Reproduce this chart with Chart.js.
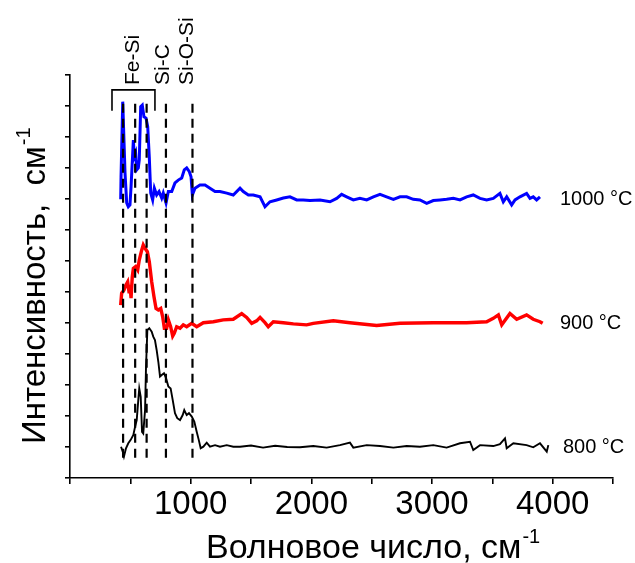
<!DOCTYPE html>
<html>
<head>
<meta charset="utf-8">
<script src="https://cdn.jsdelivr.net/npm/chart.js@4.4.1/dist/chart.umd.min.js"></script>
<style>
    html, body { margin: 0; padding: 0; background: #fff; }
    #wrap { width: 635px; height: 563px; }
</style>
</head>
<body>
<div id="wrap"><canvas id="ftir" width="635" height="563"></canvas></div>
<script>
// spectra (x = wavenumber, y = offset intensity)
const x1000 = [420, 423, 437, 456, 470, 483, 497, 506, 525, 533, 544, 553, 566, 574, 586, 599, 613, 630, 644, 657,
    669, 685, 699, 718, 738, 760, 773, 796, 815, 843, 870, 897, 926, 947, 967, 989, 1003, 1014, 1036, 1077,
    1119, 1160, 1202, 1243, 1299, 1353, 1409, 1436, 1478, 1519, 1575, 1616, 1657, 1713, 1768, 1823, 1879, 1933, 1989, 2072,
    2155, 2210, 2251, 2293, 2348, 2403, 2459, 2514, 2569, 2624, 2680, 2735, 2790, 2845, 2900, 2956, 3011, 3066, 3121, 3177,
    3232, 3287, 3342, 3398, 3453, 3508, 3563, 3591, 3619, 3660, 3688, 3729, 3784, 3812, 3839, 3867, 3895];
const y1000 = [8.99, 9.72, 12.14, 9.84, 8.87, 8.75, 8.81, 9.40, 10.90, 10.36, 10.48, 9.94, 10.0, 10.26, 11.98, 12.03, 11.65, 11.61, 11.33, 10.36,
    9.19, 8.97, 9.35, 9.13, 9.24, 9.03, 9.19, 8.87, 9.24, 9.24, 9.52, 9.61, 9.68, 9.94, 10.0, 9.88, 9.72, 9.13, 9.35, 9.45,
    9.45, 9.35, 9.24, 9.24, 9.19, 9.13, 9.35, 9.24, 9.13, 9.13, 9.07, 8.75, 8.91, 8.97, 9.03, 9.07, 8.97, 8.97, 8.95, 8.97,
    8.91, 9.02, 9.15, 9.07, 8.97, 9.02, 8.97, 9.07, 9.15, 9.07, 8.99, 9.07, 9.07, 8.99, 8.97, 8.86, 8.95, 8.97, 8.99, 9.02,
    8.97, 9.07, 9.13, 9.02, 8.97, 9.02, 9.18, 8.91, 9.07, 8.81, 8.97, 9.07, 9.18, 9.02, 9.07, 8.97, 9.07];

const x900 = [420, 428, 447, 464, 478, 489, 497, 506, 516, 525, 544, 561, 574, 594, 607, 622, 641, 657, 677, 696,
    713, 732, 752, 768, 782, 801, 815, 834, 851, 864, 884, 912, 939, 967, 1009, 1050, 1105, 1188, 1270, 1353,
    1423, 1464, 1506, 1547, 1575, 1616, 1643, 1685, 1768, 1851, 1961, 2016, 2182, 2320, 2541, 2735, 3011, 3287, 3453, 3508,
    3550, 3578, 3646, 3702, 3784, 3839, 3895, 3917];
const y900 = [5.58, 5.96, 6.06, 6.23, 6.33, 6.01, 6.23, 5.80, 6.49, 6.76, 6.82, 6.71, 7.03, 7.35, 7.52, 7.41, 7.30, 6.98, 6.33, 5.85,
    5.47, 5.42, 5.47, 5.20, 4.83, 4.83, 5.10, 4.88, 4.58, 4.67, 4.88, 4.83, 4.94, 4.88, 4.99, 4.88, 5.01, 5.04, 5.10, 5.12,
    5.30, 5.18, 4.99, 5.07, 5.18, 5.01, 4.88, 5.04, 5.01, 4.97, 4.94, 4.99, 5.07, 5.01, 4.92, 4.99, 5.01, 5.01, 5.04, 5.15,
    5.26, 4.94, 5.31, 5.12, 5.26, 5.12, 5.04, 4.99];

const x800 = [423, 437, 447, 464, 483, 503, 525, 539, 553, 566, 574, 586, 597, 607, 622, 630, 641, 657, 677, 690,
    704, 718, 732, 746, 760, 779, 796, 815, 834, 851, 870, 889, 912, 934, 947, 967, 986, 1009, 1030, 1050,
    1067, 1083, 1105, 1133, 1160, 1202, 1243, 1299, 1353, 1409, 1500, 1600, 1700, 1800, 1906, 2016, 2127, 2237, 2320, 2348,
    2459, 2569, 2680, 2790, 2900, 3011, 3121, 3232, 3315, 3342, 3398, 3508, 3563, 3605, 3619, 3674, 3784, 3839, 3895, 3951,
    3964];
const y800 = [1.01, 0.85, 0.69, 0.96, 1.12, 1.23, 1.39, 1.65, 1.87, 2.52, 2.89, 2.62, 1.49, 1.44, 2.19, 3.59, 4.77, 4.83, 4.72, 4.56,
    4.45, 4.13, 3.75, 3.27, 3.32, 3.38, 3.22, 2.95, 2.89, 2.52, 2.09, 1.93, 1.87, 2.03, 2.19, 2.03, 2.09, 1.98, 1.82, 1.49,
    1.23, 0.96, 1.01, 1.14, 1.01, 1.06, 1.01, 1.06, 1.01, 1.01, 1.05, 0.98, 1.04, 1.0, 0.99, 1.03, 0.98, 1.06, 1.14, 0.98,
    1.06, 1.03, 0.98, 1.03, 1.01, 1.06, 0.98, 1.12, 1.17, 0.90, 1.06, 1.03, 1.09, 1.28, 0.96, 1.12, 1.06, 0.99, 1.12, 0.85,
    1.06];

// band markers
const markerX = [440, 540, 635, 795, 1015];
const markerY = [0.65, 12.23];
const bracketX = [348, 348, 704, 704];
const bracketY = [11.85, 12.52, 12.52, 11.85];
const bandLabels = ["Fe-Si", "Si-C", "Si-O-Si"];
const bandLabelX = [522, 771, 974];

const seriesNames = ["1000 °C", "900 °C", "800 °C"];
const seriesBase = [9, 5, 1];
const seriesLabelX = [4060, 4060, 4085];

const FONT = '"Liberation Sans", Arial, sans-serif';

function pts(xs, ys) {
    return xs.map((v, i) => ({ x: v, y: ys[i] }));
}

const datasets = [];

markerX.forEach(m => {
    datasets.push({
        data: pts([m, m], markerY),
        borderColor: "#000",
        borderWidth: 2.2,
        borderDash: [9, 6]
    });
});

datasets.push({ data: pts(bracketX, bracketY), borderColor: "#000", borderWidth: 1.6 });
datasets.push({ data: pts(x1000, y1000), borderColor: "#0000ff", borderWidth: 3 });
datasets.push({ data: pts(x900, y900), borderColor: "#ff0000", borderWidth: 3.4 });
datasets.push({ data: pts(x800, y800), borderColor: "#000", borderWidth: 1.9 });

// labels, titles with superscripts
const annotate = {
    id: "annotate",
    afterDatasetsDraw(chart) {
        const { ctx, scales: { x, y } } = chart;
        ctx.save();
        ctx.fillStyle = "#000";

        ctx.font = "21px " + FONT;
        ctx.textAlign = "left";
        ctx.textBaseline = "middle";
        bandLabels.forEach((t, i) => {
            ctx.save();
            ctx.translate(x.getPixelForValue(bandLabelX[i]), 85);
            ctx.rotate(-Math.PI / 2);
            ctx.fillText(t, 0, 0);
            ctx.restore();
        });

        ctx.font = "20px " + FONT;
        seriesNames.forEach((t, i) => {
            ctx.fillText(t, x.getPixelForValue(seriesLabelX[i]), y.getPixelForValue(seriesBase[i]));
        });

        // x title
        ctx.textBaseline = "alphabetic";
        ctx.font = "34px " + FONT;
        const xt = "Волновое число, см";
        ctx.fillText(xt, 206, 558);
        const w = ctx.measureText(xt).width;
        ctx.font = "20px " + FONT;
        ctx.fillText("-1", 206 + w + 1, 543);

        // y title
        ctx.save();
        ctx.translate(45, 444);
        ctx.rotate(-Math.PI / 2);
        ctx.font = "33px " + FONT;
        const yt = "Интенсивность,  см";
        ctx.fillText(yt, 0, 0);
        const wy = ctx.measureText(yt).width;
        ctx.font = "20px " + FONT;
        ctx.fillText("-1", wy + 1, -15);
        ctx.restore();

        ctx.restore();
    }
};

new Chart(document.getElementById("ftir"), {
    type: "line",
    data: { datasets },
    options: {
        responsive: false,
        animation: false,
        layout: { padding: { left: 58, top: 75, right: 22, bottom: 0 } },
        elements: { point: { radius: 0 }, line: { tension: 0, fill: false } },
        plugins: { legend: { display: false }, tooltip: { enabled: false } },
        scales: {
            x: {
                type: "linear",
                min: 0,
                max: 4500,
                afterFit: s => { s.height = 85; },
                border: { color: "#000", width: 1.6 },
                grid: { drawOnChartArea: false, color: "#000", lineWidth: 1.6, tickLength: 6 },
                ticks: {
                    stepSize: 500,
                    padding: 1,
                    color: "#000",
                    font: { family: FONT, size: 33 },
                    maxRotation: 0,
                    autoSkip: false,
                    callback: v => (v > 0 && v % 1000 === 0) ? v : ""
                }
            },
            y: {
                min: 0,
                max: 13,
                afterFit: s => { s.width = 12; },
                border: { color: "#000", width: 1.6 },
                grid: { drawOnChartArea: false, color: "#000", lineWidth: 1.6, tickLength: 5 },
                ticks: { stepSize: 1, display: true, callback: () => "" }
            }
        }
    },
    plugins: [annotate]
});
</script>
</body>
</html>
